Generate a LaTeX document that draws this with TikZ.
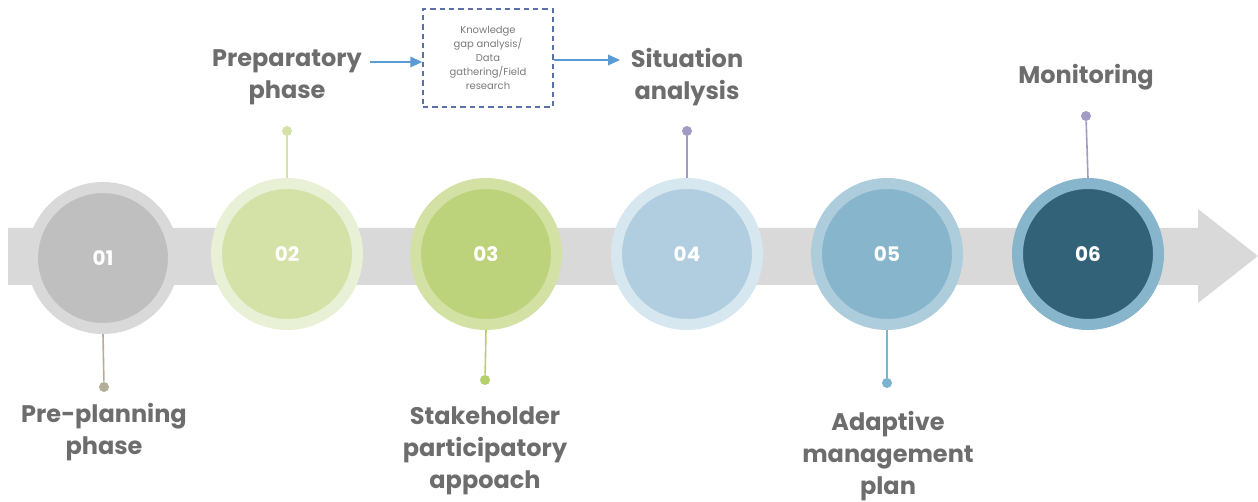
\documentclass[tikz,border=0pt]{standalone}
\usepackage{fontspec}
\setmainfont{Poppins}
\usetikzlibrary{arrows.meta}
\definecolor{band}{HTML}{D9D9D9}
\definecolor{txt}{HTML}{6D6D6D}
\definecolor{boxtxt}{HTML}{7A7A7A}
\definecolor{oA}{HTML}{D9D9D9}\definecolor{iA}{HTML}{BFBFBF}
\definecolor{oB}{HTML}{E8F0D5}\definecolor{iB}{HTML}{D4E1A7}
\definecolor{oC}{HTML}{D3E2A4}\definecolor{iC}{HTML}{BDD37B}
\definecolor{oD}{HTML}{D6E7EF}\definecolor{iD}{HTML}{B0CEDF}
\definecolor{oE}{HTML}{ADCDDD}\definecolor{iE}{HTML}{87B5CB}
\definecolor{oF}{HTML}{87B5CB}\definecolor{iF}{HTML}{326278}
\definecolor{sA}{HTML}{B5AD98}
\definecolor{sB}{HTML}{D4E1A7}
\definecolor{sC}{HTML}{B5CF6E}
\definecolor{sD}{HTML}{A39BC4}
\definecolor{sE}{HTML}{7AB4CF}
\definecolor{flowc}{HTML}{5B9BD5}
\definecolor{dashc}{HTML}{5B6FA8}
\tikzset{
  stepring/.style 2 args={circle, draw=#1, fill=#2, line width=8.25pt,
    minimum size=105.75pt, inner sep=0pt, text=white,
    font=\fontsize{15}{18}\selectfont\bfseries},
  stemdot/.style={circle, fill=#1, inner sep=0pt, minimum size=7.5pt},
  stem/.style={draw=#1, line width=1.2pt},
  steplabel/.style={align=center, text=txt, inner sep=0pt,
    font=\fontsize{18}{24}\selectfont\bfseries},
  kbox/.style={draw=dashc, dashed, dash pattern=on 4pt off 3pt, line width=1.1pt,
    minimum width=97.5pt, minimum height=73.5pt, align=center, text=boxtxt,
    inner sep=2pt, font=\fontsize{7.5}{10.5}\selectfont},
  flow/.style={draw=flowc, line width=1.1pt, -{Triangle[length=9pt,width=8pt]}}
}
\begin{document}
\begin{tikzpicture}[x=0.75pt,y=-0.75pt]
\useasboundingbox (0,0) rectangle (1258,502);
% band arrow
\fill[band] (8,228) -- (1198,228) -- (1198,209) -- (1258,256) -- (1198,303) -- (1198,285) -- (8,285) -- cycle;
% circles
\node[stepring={oA}{iA}] (c1) at (103,258) {01};
\node[stepring={oB}{iB}] (c2) at (287,254) {02};
\node[stepring={oC}{iC}] (c3) at (486,254) {03};
\node[stepring={oD}{iD}] (c4) at (687,254) {04};
\node[stepring={oE}{iE}] (c5) at (887,254) {05};
\node[stepring={oF}{iF}] (c6) at (1088,254) {06};
% stem dots
\node[stemdot=sA] (d1) at (104,387) {};
\node[stemdot=sB] (d2) at (287,131) {};
\node[stemdot=sC] (d3) at (485,380) {};
\node[stemdot=sD] (d4) at (687,131) {};
\node[stemdot=sE] (d5) at (887,383) {};
\node[stemdot=sD] (d6) at (1086,116) {};
\draw[stem=sA] (c1.south) -- (d1);
\draw[stem=sB] (c2.north) -- (d2);
\draw[stem=sC] (c3.south) -- (d3);
\draw[stem=sD] (c4.north) -- (d4);
\draw[stem=sE] (c5.south) -- (d5);
\draw[stem=sD] (c6.north) -- (d6);
% labels
\node[steplabel] (l1) at (104,432) {Pre-planning\\phase};
\node[steplabel] (l2) at (287,77) {Preparatory\\phase};
\node[steplabel] (l3) at (485,451) {Stakeholder\\participatory\\appoach};
\node[steplabel] (l4) at (687,77) {Situation\\analysis};
\node[steplabel] (l5) at (888,456) {Adaptive\\management\\plan};
\node[steplabel] (l6) at (1086,77) {Monitoring};
% knowledge box
\node[kbox] (kb) at (488,58) {Knowledge\\gap analysis/\\Data\\gathering/Field\\research};
\coordinate (a1) at (370,62);
\coordinate (a2) at (620,60);
\draw[flow] (a1) -- (a1 -| kb.west);
\draw[flow] (kb.east |- a2) -- (a2);
\end{tikzpicture}
\end{document}
